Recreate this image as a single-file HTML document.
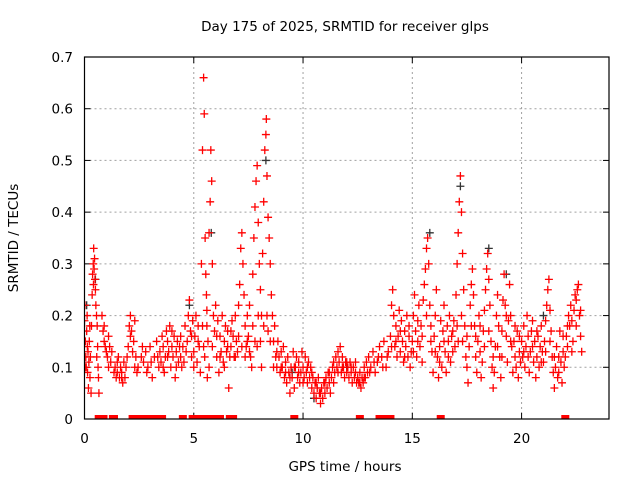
<!DOCTYPE html>
<html><head><meta charset="utf-8"><style>
html,body{margin:0;padding:0;background:#fff;}
svg{display:block;font-family:"DejaVu Sans","Liberation Sans",sans-serif;}
</style></head><body>
<svg id="chart" width="640" height="480" viewBox="0 0 640 480">
<text x="345" y="31" text-anchor="middle" font-size="13.5">Day 175 of 2025, SRMTID for receiver glps</text>
<text transform="translate(18,238) rotate(-90)" text-anchor="middle" font-size="13.5">SRMTID / TECUs</text>
<text x="345" y="471" text-anchor="middle" font-size="13.5">GPS time / hours</text>
<defs><clipPath id="plotclip"><rect x="84.5" y="57" width="524.5" height="362"/></clipPath></defs>
<g id="grid"></g>
<g id="ticks"></g>
<g id="marks" clip-path="url(#plotclip)"></g>
<rect x="84.5" y="57" width="524.5" height="362" fill="none" stroke="#000" stroke-width="1.2"/>
</svg>
<script>
const xTicks = [0, 5, 10, 15, 20];
const yTicks = [0, 0.1, 0.2, 0.3, 0.4, 0.5, 0.6, 0.7];
const yTickLabels = ["0", "0.1", "0.2", "0.3", "0.4", "0.5", "0.6", "0.7"];
const blackSamples = [[0.1,0.22],[0.5,0.27],[5.8,0.36],[8.3,0.5],[15.8,0.36],[17.2,0.45],[18.5,0.33],[10.5,0.04],[21,0.2],[9.5,0.09],[12,0.1],[4.8,0.22],[19.3,0.28]];
const redSamples = [
[0,0.19],[0.02,0.22],[0.04,0.15],[0.06,0.12],[0.08,0.1],[0.1,0.17],[0.12,0.2],[0.14,0.09],[0.16,0.13],[0.18,0.06],[0.2,0.11],[0.22,0.15],[0.25,0.08],[0.27,0.12],[0.3,0.05],[0.32,0.18],[0.35,0.24],[0.37,0.28],[0.4,0.3],[0.42,0.33],[0.44,0.29],[0.46,0.31],[0.48,0.27],[0.5,0.25],[0.52,0.22],[0.55,0.2],[0.58,0.18],[0.6,0.14],[0.62,0.1],[0.64,0.08],[0.66,0.05],
[0.8,0.2],[0.85,0.17],[0.9,0.18],[0.95,0.14],[1.0,0.13],[1.05,0.12],[1.1,0.1],[1.15,0.14],[1.2,0.11],[1.25,0.13],
[1.35,0.09],[1.4,0.1],[1.45,0.08],[1.5,0.09],[1.55,0.12],[1.6,0.08],[1.65,0.1],[1.7,0.09],[1.75,0.07],[1.8,0.11],[1.85,0.08],[1.9,0.1],[1.95,0.12],
[2.0,0.14],[2.05,0.18],[2.1,0.2],[2.15,0.17],[2.2,0.13],[2.25,0.15],[2.3,0.19],[2.35,0.12],[2.4,0.09],[2.45,0.1],
[2.6,0.12],[2.7,0.11],[2.8,0.13],[2.9,0.1],[3.0,0.14],[3.1,0.08],[3.2,0.12],[3.3,0.15],[3.4,0.1],[3.45,0.13],
[3.5,0.11],[3.55,0.16],[3.6,0.14],[3.65,0.09],[3.7,0.12],[3.75,0.17],[3.8,0.15],[3.85,0.13],[3.9,0.18],[3.95,0.1],[4.0,0.14],[4.05,0.12],[4.1,0.16],[4.15,0.08],[4.2,0.13],[4.25,0.15],[4.3,0.11],[4.35,0.14],[4.4,0.12],[4.45,0.1],
[4.5,0.14],[4.6,0.18],[4.7,0.15],[4.75,0.2],[4.8,0.23],[4.85,0.17],[4.9,0.12],[4.95,0.19],[5.0,0.13],[5.05,0.16],[5.1,0.2],[5.15,0.11],[5.2,0.18],[5.25,0.14],[5.3,0.09],
[5.35,0.3],[5.4,0.52],[5.45,0.66],[5.48,0.59],[5.52,0.35],[5.55,0.28],[5.6,0.21],[5.65,0.15],[5.7,0.36],[5.75,0.42],[5.78,0.52],[5.82,0.46],[5.85,0.3],[5.9,0.2],[5.5,0.12],[5.62,0.08],[5.4,0.18],[5.58,0.24],
[5.95,0.17],[6.0,0.22],[6.05,0.12],[6.1,0.19],[6.15,0.09],[6.2,0.16],[6.25,0.13],[6.3,0.2],[6.35,0.11],[6.4,0.15],[6.45,0.18],[6.5,0.13],[6.55,0.17],[6.6,0.06],[6.65,0.12],[6.7,0.14],[6.75,0.19],
[6.8,0.16],[6.85,0.12],[6.9,0.2],[6.95,0.15],[7.0,0.13],[7.05,0.22],[7.1,0.26],[7.15,0.33],[7.2,0.36],[7.25,0.3],[7.3,0.24],[7.35,0.18],[7.4,0.14],[7.45,0.2],
[7.5,0.16],[7.55,0.22],[7.6,0.12],[7.7,0.28],[7.75,0.35],[7.8,0.41],[7.85,0.46],[7.9,0.49],[7.95,0.38],[8.0,0.3],[8.05,0.25],[8.1,0.2],[8.15,0.32],[8.2,0.42],[8.25,0.52],[8.3,0.55],[8.32,0.58],[8.35,0.47],[8.4,0.39],[8.45,0.35],[8.5,0.3],[8.55,0.24],[8.6,0.2],[8.65,0.15],[7.65,0.1],[7.9,0.14],[8.1,0.1],[8.4,0.17],
[8.7,0.18],[8.75,0.12],[8.8,0.1],[8.85,0.15],[8.9,0.12],[8.95,0.09],[9.0,0.13],[9.05,0.1],[9.1,0.14],[9.15,0.08],
[9.2,0.11],[9.25,0.07],[9.3,0.12],[9.35,0.09],[9.4,0.05],[9.45,0.1],[9.5,0.08],[9.55,0.13],[9.6,0.06],[9.65,0.1],[9.7,0.12],[9.75,0.08],[9.8,0.11],[9.85,0.07],[9.9,0.09],[9.95,0.13],[10.0,0.1],[10.05,0.08],[10.1,0.12],[10.15,0.09],[10.2,0.07],[10.25,0.11],[10.3,0.08],[10.35,0.1],[10.4,0.06],[10.45,0.08],
[10.5,0.05],[10.55,0.07],[10.6,0.04],[10.65,0.06],[10.7,0.08],[10.75,0.05],[10.8,0.03],[10.85,0.06],[10.9,0.04],[10.95,0.07],[11.0,0.05],[11.05,0.08],[11.1,0.06],[11.15,0.09],[11.2,0.07],[11.25,0.05],[11.3,0.08],[11.35,0.1],[11.4,0.07],[11.45,0.09],
[11.5,0.12],[11.55,0.1],[11.6,0.13],[11.65,0.11],[11.7,0.14],[11.75,0.09],[11.8,0.12],[11.85,0.1],[11.9,0.08],[11.95,0.11],[12.0,0.09],[12.05,0.1],[12.1,0.08],[12.15,0.11],[12.2,0.09],[12.25,0.07],[12.3,0.1],[12.35,0.08],[12.4,0.09],[12.45,0.07],
[12.5,0.08],[12.55,0.07],[12.6,0.09],[12.65,0.06],[12.7,0.08],[12.75,0.07],[12.8,0.1],[12.85,0.08],[12.9,0.11],[12.95,0.09],
[13.0,0.12],[13.1,0.1],[13.2,0.13],[13.3,0.09],[13.4,0.11],[13.5,0.14],[13.6,0.12],[13.7,0.15],[13.8,0.1],[13.9,0.13],
[14.0,0.16],[14.05,0.22],[14.1,0.25],[14.15,0.2],[14.2,0.14],[14.25,0.18],[14.3,0.12],[14.35,0.16],[14.4,0.21],[14.45,0.13],[14.5,0.19],[14.55,0.15],[14.6,0.11],[14.65,0.17],[14.7,0.14],[14.75,0.2],[14.8,0.12],[14.85,0.16],[14.9,0.1],[14.95,0.13],
[15.0,0.15],[15.05,0.2],[15.1,0.24],[15.15,0.17],[15.2,0.12],[15.25,0.19],[15.3,0.22],[15.35,0.14],[15.4,0.18],[15.45,0.11],[15.5,0.23],[15.55,0.26],[15.6,0.29],[15.65,0.33],[15.7,0.35],[15.75,0.3],[15.8,0.22],[15.85,0.18],[15.9,0.13],[15.95,0.09],
[16.0,0.16],[16.05,0.2],[16.1,0.25],[16.15,0.12],[16.2,0.08],[16.25,0.14],[16.3,0.19],[16.35,0.1],[16.4,0.17],[16.45,0.22],[16.5,0.13],[16.55,0.09],[16.6,0.18],[16.65,0.15],[16.7,0.2],[16.75,0.11],[16.8,0.16],[16.85,0.13],[16.9,0.19],[16.95,0.14],
[17.0,0.24],[17.05,0.3],[17.1,0.36],[17.15,0.42],[17.2,0.47],[17.25,0.4],[17.3,0.32],[17.35,0.25],[17.4,0.18],[17.45,0.12],[17.1,0.15],[17.25,0.2],
[17.5,0.1],[17.55,0.07],[17.6,0.14],[17.65,0.22],[17.7,0.26],[17.75,0.29],[17.8,0.24],[17.85,0.18],[17.9,0.12],[17.95,0.09],
[18.0,0.15],[18.05,0.2],[18.1,0.13],[18.15,0.08],[18.2,0.11],[18.25,0.17],[18.3,0.21],[18.35,0.25],[18.4,0.29],[18.45,0.32],[18.5,0.27],[18.55,0.22],[18.6,0.15],[18.65,0.1],[18.7,0.06],[18.75,0.09],[18.8,0.14],[18.85,0.2],[18.9,0.24],[18.95,0.18],
[19.0,0.12],[19.05,0.08],[19.1,0.17],[19.15,0.23],[19.2,0.28],[19.25,0.22],[19.3,0.16],[19.35,0.11],[19.4,0.19],[19.45,0.26],[19.5,0.2],[19.55,0.14],[19.6,0.09],[19.65,0.15],[19.7,0.12],[19.75,0.1],[19.8,0.17],[19.85,0.08],[19.9,0.13],[19.95,0.11],
[20.0,0.15],[20.05,0.12],[20.1,0.18],[20.15,0.1],[20.2,0.14],[20.25,0.2],[20.3,0.16],[20.35,0.09],[20.4,0.13],[20.45,0.17],[20.5,0.19],[20.55,0.11],[20.6,0.15],[20.65,0.08],[20.7,0.12],[20.75,0.16],[20.8,0.1],[20.85,0.14],[20.9,0.18],[20.95,0.13],
[21.0,0.11],[21.05,0.15],[21.1,0.19],[21.15,0.22],[21.2,0.25],[21.25,0.27],[21.3,0.21],[21.35,0.17],[21.4,0.12],[21.45,0.09],[21.5,0.06],[21.55,0.1],[21.6,0.14],[21.65,0.08],[21.7,0.12],[21.75,0.17],[21.8,0.11],[21.85,0.07],[21.9,0.13],[21.95,0.1],
[22.0,0.12],[22.05,0.16],[22.1,0.14],[22.15,0.2],[22.2,0.18],[22.25,0.22],[22.3,0.19],[22.35,0.15],[22.4,0.21],[22.45,0.24],[22.5,0.23],[22.55,0.25],[22.6,0.26],[22.65,0.2],[22.7,0.16],[22.75,0.13]
];
const extraSamples = [
[0.03,0.1],[0.13,0.14],[0.24,0.18],[0.41,0.26],[0.56,0.12],[0.9,0.15],[1.1,0.16],[1.5,0.11],[1.7,0.08],[2.1,0.16],[2.3,0.1],[2.65,0.14],[2.85,0.09],[3.05,0.11],[3.35,0.12],
[3.6,0.1],[3.8,0.12],[4.0,0.17],[4.2,0.1],[4.4,0.16],[4.55,0.11],[4.65,0.13],[4.9,0.16],[5.0,0.1],[5.2,0.15],[5.45,0.14],[5.6,0.18],[5.7,0.1],[5.85,0.14],[6.05,0.16],
[6.2,0.12],[6.4,0.1],[6.55,0.14],[6.7,0.17],[6.9,0.12],[7.05,0.16],[7.2,0.14],[7.35,0.12],[7.45,0.15],[7.55,0.13],[7.7,0.18],[7.8,0.15],[7.95,0.2],[8.05,0.15],[8.2,0.18],
[8.35,0.2],[8.5,0.15],[8.65,0.1],[8.8,0.13],[9.0,0.1],[9.2,0.09],[9.4,0.08],[9.6,0.1],[9.8,0.09],[10.0,0.07],[10.2,0.1],[10.4,0.09],[10.6,0.07],[10.8,0.05],[11.0,0.07],
[11.2,0.09],[11.4,0.11],[11.6,0.09],[11.8,0.1],[12.0,0.11],[12.2,0.1],[12.4,0.11],[12.6,0.07],[12.8,0.08],[13.05,0.09],[13.25,0.11],[13.45,0.12],[13.65,0.1],[13.85,0.12],[14.05,0.14],
[14.25,0.15],[14.45,0.17],[14.65,0.12],[14.85,0.18],[15.05,0.13],[15.25,0.15],[15.45,0.16],[15.65,0.2],[15.85,0.15],[16.05,0.13],[16.25,0.11],[16.45,0.15],[16.65,0.12],[16.85,0.17],[17.05,0.18],
[17.3,0.15],[17.5,0.16],[17.7,0.18],[17.9,0.16],[18.1,0.18],[18.3,0.14],[18.5,0.17],[18.7,0.12],[18.9,0.14],[19.1,0.12],[19.3,0.2],[19.5,0.15],[19.7,0.18],[19.9,0.16],[20.1,0.13],
[20.3,0.12],[20.5,0.14],[20.7,0.17],[20.9,0.11],[21.1,0.13],[21.3,0.15],[21.5,0.12],[21.7,0.09],[21.9,0.16],[22.1,0.18],[22.3,0.13],[22.5,0.18],[22.7,0.21]
];
const zeroTimes = [0.65,0.72,0.8,0.87,1.3,1.35,2.2,2.3,2.4,2.5,2.6,2.7,2.8,2.9,3.0,3.1,3.2,3.3,3.45,3.55,4.5,4.95,5.1,5.25,5.55,5.7,5.85,6.0,6.2,6.65,6.8,9.6,12.6,13.5,13.65,14.0,16.3,22.0];

const X0 = 84.5, X1 = 609, Y0 = 419, Y1 = 57, XMAX = 24, YMAX = 0.7;
function sx(t){ return X0 + (X1 - X0) * t / XMAX; }
function sy(v){ return Y0 - (Y0 - Y1) * v / YMAX; }
const NS = "http://www.w3.org/2000/svg";
const grid = document.getElementById('grid');
const ticks = document.getElementById('ticks');
const marks = document.getElementById('marks');
const svg = document.getElementById('chart');

function line(parent, x1, y1, x2, y2, stroke, dash, w){
  const l = document.createElementNS(NS, 'line');
  l.setAttribute('x1', x1); l.setAttribute('y1', y1);
  l.setAttribute('x2', x2); l.setAttribute('y2', y2);
  l.setAttribute('stroke', stroke); l.setAttribute('stroke-width', w || 1);
  if (dash) l.setAttribute('stroke-dasharray', dash);
  parent.appendChild(l);
  return l;
}
function label(txt, x, y, anchor){
  const t = document.createElementNS(NS, 'text');
  t.setAttribute('x', x); t.setAttribute('y', y);
  t.setAttribute('text-anchor', anchor);
  t.setAttribute('font-size', '13.5');
  t.textContent = txt;
  svg.appendChild(t);
  return t;
}
xTicks.forEach(function(t){
  const x = sx(t);
  if (t > 0) {
    const g = line(grid, x, Y0, x, Y1, '#a0a0a0', '2,3', 1);
    
    
  }
  line(ticks, x, Y0, x, Y0 - 6, '#000');
  line(ticks, x, Y1, x, Y1 + 6, '#000');
  const lb = label(String(t), x, 443, 'middle');
  
  
});
yTicks.forEach(function(v, i){
  const y = sy(v);
  if (v > 0 && v < YMAX) {
    const g = line(grid, X0, y, X1, y, '#a0a0a0', '2,3', 1);
    
    
  }
  line(ticks, X0, y, X0 + 6, y, '#000');
  line(ticks, X1, y, X1 - 6, y, '#000');
  const lb = label(yTickLabels[i], 73, y + 5, 'end');
  
  
});
function plus(t, v, color){
  const x = sx(t), y = sy(v);
  const p = document.createElementNS(NS, 'path');
  p.setAttribute('d', 'M' + (x - 4) + ' ' + y + 'H' + (x + 4) + 'M' + x + ' ' + (y - 4) + 'V' + (y + 4));
  p.setAttribute('stroke', color);
  p.setAttribute('stroke-width', '1.3');
  p.setAttribute('fill', 'none');
  marks.appendChild(p);
  return p;
}
blackSamples.forEach(function(s){
  const p = plus(s[0], s[1], '#333');
  
  
});
extraSamples.forEach(function(s){
  const p = plus(s[0], s[1], '#ff0000');
  
  
});
redSamples.forEach(function(s){
  const p = plus(s[0], s[1], '#ff0000');
  
  
});
zeroTimes.forEach(function(t){
  const x = sx(t);
  const r = document.createElementNS(NS, 'rect');
  r.setAttribute('x', x - 4); r.setAttribute('y', Y0 - 4);
  r.setAttribute('width', 8); r.setAttribute('height', 4);
  r.setAttribute('fill', '#ff0000');
  
  
  marks.appendChild(r);
});
</script>
</body></html>
